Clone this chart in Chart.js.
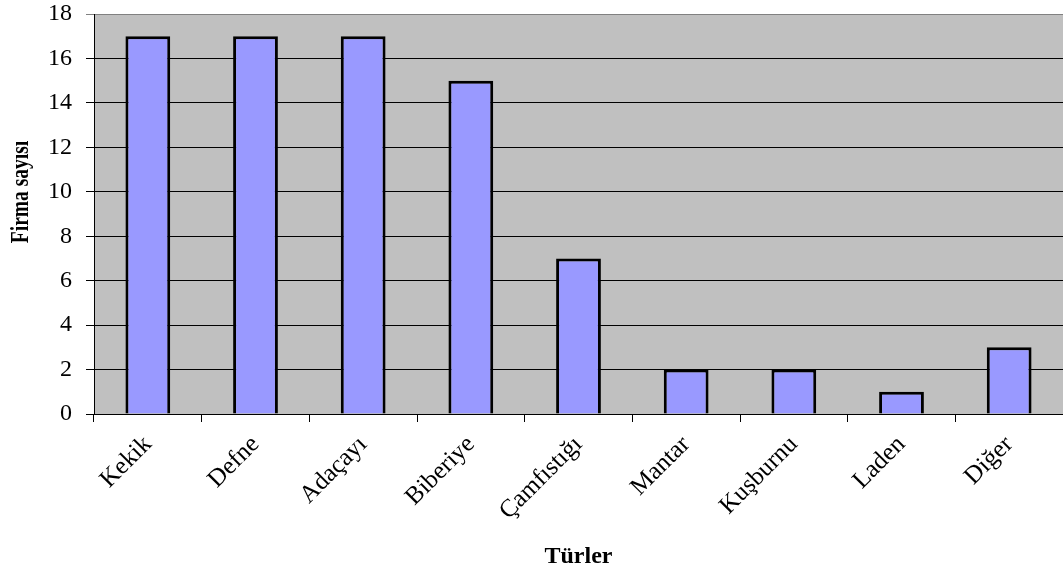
<!DOCTYPE html>
<html>
<head>
<meta charset="utf-8">
<script src="https://cdn.jsdelivr.net/npm/chart.js@4/dist/chart.umd.min.js"></script>
<style>
html,body{margin:0;padding:0;background:#fff;}
canvas{display:block;}
</style>
</head>
<body>
<canvas id="c" width="1063" height="573"></canvas>
<script>
const categories = ["Kekik","Defne","Adaçayı","Biberiye","Çamfıstığı","Mantar","Kuşburnu","Laden","Diğer"];
const values = [17,17,17,15,7,2,2,1,3];
const yTitle = "Firma sayısı";
const xTitle = "Türler";

const FONT = "'Liberation Serif','Times New Roman',serif";

const bgPlugin = {
  id: 'bg',
  beforeDraw(chart) {
    const {ctx, chartArea: a} = chart;
    ctx.save();
    ctx.fillStyle = '#C0C0C0';
    ctx.fillRect(a.left, a.top, a.right - a.left, a.bottom - a.top);
    ctx.restore();
  },
  afterDraw(chart) {
    const {ctx} = chart;
    ctx.save();
    ctx.fillStyle = '#000';
    ctx.font = "bold 25px " + FONT;
    ctx.textAlign = 'center';
    ctx.textBaseline = 'middle';
    ctx.translate(22, 192);
    ctx.rotate(-Math.PI / 2);
    ctx.scale(0.78, 1);
    ctx.fillText(yTitle, 0, 0);
    ctx.restore();
  }
};

new Chart(document.getElementById('c'), {
  type: 'bar',
  data: {
    labels: categories,
    datasets: [{
      data: values,
      backgroundColor: '#9999FF',
      borderColor: '#000000',
      borderWidth: 3,
      barPercentage: 0.8,
      categoryPercentage: 0.52
    }]
  },
  options: {
    responsive: false,
    animation: false,
    layout: {padding: {top: 14, right: 0, left: 0, bottom: 0}},
    plugins: {legend: {display: false}, tooltip: {enabled: false}},
    scales: {
      x: {
        afterFit(s) { s.height = 159; s.paddingLeft = 0; s.paddingRight = 0; },
        grid: {drawOnChartArea: false, drawTicks: true, tickLength: 8, color: '#000', offset: true},
        border: {display: true, color: '#000', width: 1},
        ticks: {
          color: '#000', font: {family: FONT, size: 25}, minRotation: 45, maxRotation: 45, padding: 8
        },
        title: {display: true, text: xTitle, color: '#000', font: {family: FONT, size: 24, weight: 'bold'}, padding: {top: 0, bottom: 2}}
      },
      y: {
        min: 0, max: 18,
        afterFit(s) { s.width = 94; s.paddingTop = 0; s.paddingBottom = 0; },
        grid: {
          drawOnChartArea: true, drawTicks: true, tickLength: 8,
          color: (c) => (c.tick && c.tick.value === 18) ? '#808080' : '#000'
        },
        border: {display: true, color: '#000', width: 1},
        ticks: {stepSize: 2, color: '#000', font: {family: FONT, size: 24}, padding: 14},
        title: {display: false}
      }
    }
  },
  plugins: [bgPlugin]
});
</script>
</body>
</html>
